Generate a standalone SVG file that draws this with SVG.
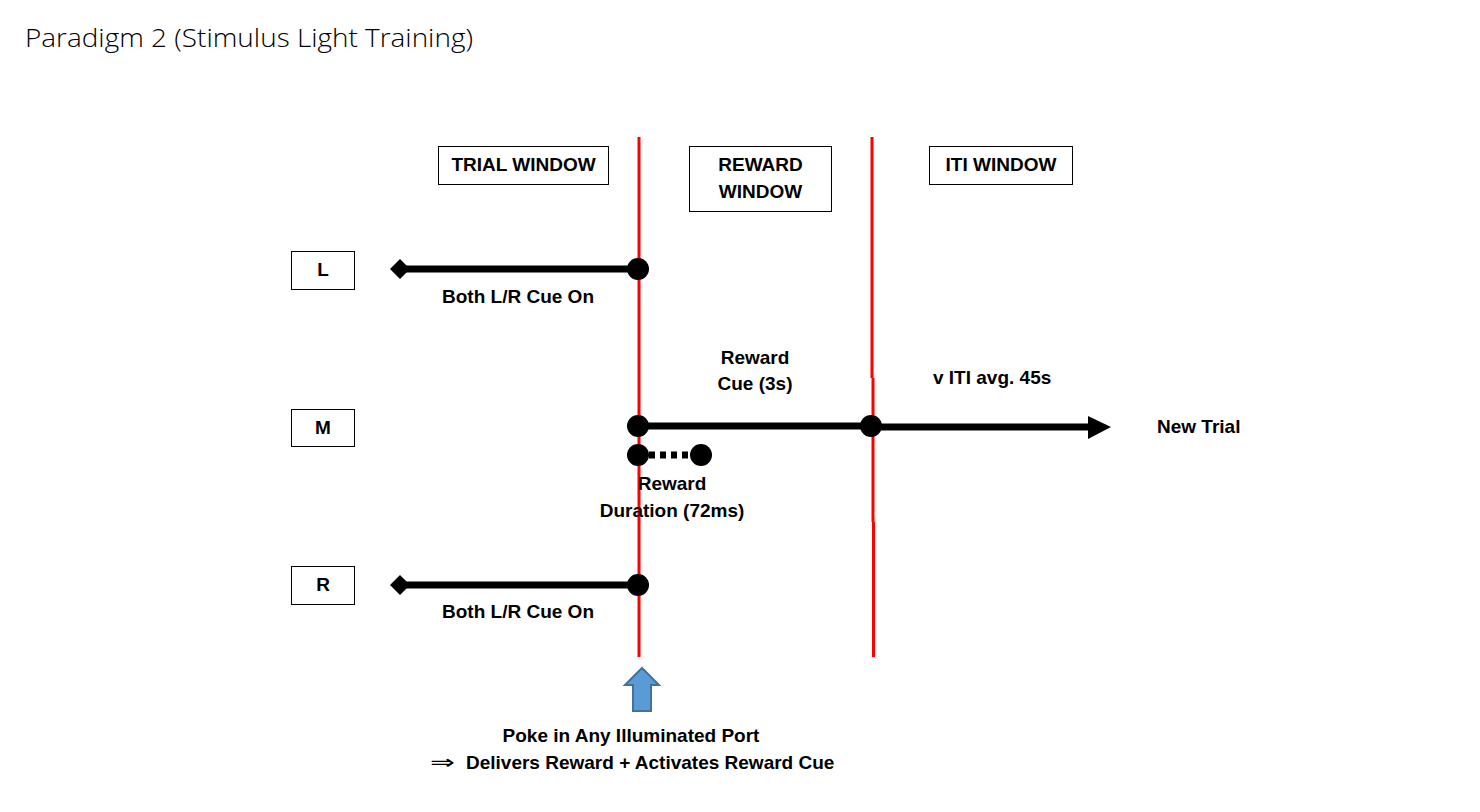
<svg xmlns="http://www.w3.org/2000/svg" width="1480" height="812" viewBox="0 0 1480 812">
<style>
.box{fill:#fff;stroke:#000;stroke-width:1}
.t{font-family:"Liberation Sans",Arial,sans-serif;font-weight:bold;font-size:19px;fill:#000;text-anchor:middle}
.ts{font-family:"Liberation Sans",Arial,sans-serif;font-weight:bold;font-size:19px;fill:#000}
.red{stroke:#ff0000;stroke-width:3;fill:none}
.bl{stroke:#000;stroke-width:7;fill:none}
</style>
<rect width="1480" height="812" fill="#fff"/>
<text x="25" y="47" font-family="'Open Sans','Noto Sans',sans-serif" font-weight="300" font-size="26" fill="#000" textLength="448" lengthAdjust="spacingAndGlyphs">Paradigm 2 (Stimulus Light Training)</text>

<g id="dividers">
<line class="red" x1="639" y1="137" x2="639" y2="657"/>
<line class="red" x1="872" y1="137" x2="872" y2="378"/>
<line class="red" x1="873" y1="378" x2="873" y2="522"/>
<line class="red" x1="873.5" y1="522" x2="873.5" y2="657"/>
</g>

<g id="trial-window"><rect class="box" x="438.5" y="146.5" width="170" height="38"/><text class="t" x="523.5" y="171">TRIAL WINDOW</text></g>
<g id="reward-window"><rect class="box" x="689.5" y="146.5" width="142" height="65"/><text class="t" x="760.5" y="171">REWARD</text><text class="t" x="760.5" y="198">WINDOW</text></g>
<g id="iti-window"><rect class="box" x="929.5" y="146.5" width="143" height="38"/><text class="t" x="1001" y="171">ITI WINDOW</text></g>

<g id="L"><rect class="box" x="291.5" y="251.5" width="63" height="38"/><text class="t" x="323" y="276">L</text></g>
<g id="M"><rect class="box" x="291.5" y="409.5" width="63" height="37"/><text class="t" x="323" y="434">M</text></g>
<g id="R"><rect class="box" x="291.5" y="566.5" width="63" height="38"/><text class="t" x="323" y="591">R</text></g>

<g id="connectors">
<line class="bl" x1="400" y1="269" x2="638" y2="269"/>
<polygon points="390,269 400,259 410,269 400,279" fill="#000"/>
<circle cx="638" cy="269" r="11" fill="#000"/>

<line class="bl" x1="400" y1="585" x2="638" y2="585"/>
<polygon points="390,585 400,575 410,585 400,595" fill="#000"/>
<circle cx="638" cy="585" r="11" fill="#000"/>

<line class="bl" x1="638" y1="426" x2="871" y2="426"/>
<line class="bl" x1="871" y1="427" x2="1090" y2="427"/>
<polygon points="1088,416 1111,427 1088,439" fill="#000"/>
<circle cx="638" cy="426" r="11" fill="#000"/>
<circle cx="871" cy="426" r="11" fill="#000"/>

<line x1="649" y1="455" x2="692" y2="455" stroke="#000" stroke-width="7" stroke-dasharray="6,5"/>
<circle cx="638" cy="455" r="11" fill="#000"/>
<circle cx="701" cy="455" r="11" fill="#000"/>
</g>

<g id="labels">
<text class="t" x="518" y="303">Both L/R Cue On</text>
<text class="t" x="518" y="618">Both L/R Cue On</text>
<text class="t" x="755" y="364">Reward</text>
<text class="t" x="755" y="390">Cue (3s)</text>
<text class="ts" x="933" y="384">v ITI avg. 45s</text>
<text class="ts" x="1157" y="433">New Trial</text>
<text class="t" x="672" y="490">Reward</text>
<text class="t" x="672" y="517">Duration (72ms)</text>
<text class="t" x="631" y="742">Poke in Any Illuminated Port</text>
<text x="430" y="769" font-family="'DejaVu Sans',sans-serif" font-size="20" fill="#000" textLength="25" lengthAdjust="spacingAndGlyphs">⇒</text>
<text class="ts" x="466" y="769">Delivers Reward + Activates Reward Cue</text>
</g>

<g id="poke-arrow">
<polygon points="642,668 659,685 651,685 651,711 633,711 633,685 625,685" fill="#5b9bd5" stroke="#41719c" stroke-width="2"/>
</g>
</svg>
